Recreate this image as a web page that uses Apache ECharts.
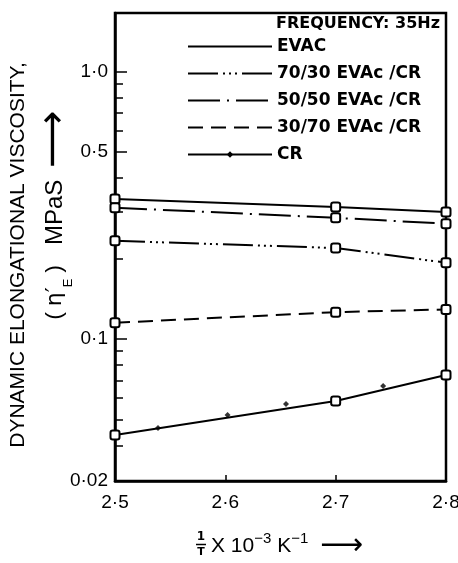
<!DOCTYPE html>
<html>
<head>
<meta charset="utf-8">
<script src="https://cdn.jsdelivr.net/npm/echarts@6/dist/echarts.min.js"></script>
<style>
  html, body { margin: 0; padding: 0; background: #fff; }
  #chart { width: 458px; height: 563px; }
</style>
</head>
<body>
<div id="chart"></div>
<script>
// x: 1/T x 10^-3 K^-1
var xValues = [2.5, 2.7, 2.8]
var xTickValues = [2.5, 2.6, 2.7, 2.8]
var xTickLabels = ['2·5', '2·6', '2·7', '2·8']

// dynamic elongational viscosity (MPa S)
var evac = [0.334, 0.312, 0.299]
var evac7030 = [0.233, 0.219, 0.193]
var evac5050 = [0.310, 0.284, 0.270]
var evac3070 = [0.115, 0.126, 0.129]
var cr = [0.0437, 0.0586, 0.0733]
// little diamonds along the CR line
var crDotX = [2.539, 2.602, 2.655, 2.743]
var crDotY = [0.0464, 0.0519, 0.0571, 0.0667]

var seriesNames = ['EVAC', '70/30 EVAc /CR', '50/50 EVAc /CR', '30/70 EVAc /CR', 'CR']

// log y axis; the bottom of the original axis carries the label 0·02
var yMin = 0.0294
var yMax = 1.66
var yTickValues = [0.0294, 0.1, 0.5, 1.0]
var yTickLabels = ['0·02', '0·1', '0·5', '1·0']
var yMinorTicks = [0.04, 0.05, 0.06, 0.07, 0.08, 0.09, 0.2, 0.3, 0.4, 0.6, 0.7, 0.8, 0.9]

var chart = echarts.init(document.getElementById('chart'), null, { renderer: 'canvas' })

function pairs(ys) {
  return xValues.map(function (x, i) {
    return { value: [x, ys[i]], symbol: 'emptyRoundRect' }
  })
}

function lineSeries(name, ys, dash, legendSymbol) {
  return {
    name: name,
    type: 'line',
    data: pairs(ys),
    symbol: legendSymbol || 'circle',
    symbolSize: 9,
    lineStyle: { color: '#000', width: 2, type: dash },
    itemStyle: { color: '#000', borderWidth: 2 },
    emphasis: { disabled: true },
    z: 3
  }
}

function tickLabel(v, values, labels) {
  for (var i = 0; i < values.length; i++) {
    if (Math.abs(v - values[i]) < 1e-6) return labels[i]
  }
  return ''
}

var font = 'DejaVu Sans'
var sans = 'Liberation Sans'

var option = {
  backgroundColor: '#fff',
  animation: false,
  title: {
    text: 'FREQUENCY: 35Hz',
    right: 18,
    top: 16,
    padding: 0,
    textStyle: { fontFamily: font, fontWeight: 'bold', fontSize: 16, color: '#000' }
  },
  legend: {
    data: seriesNames.map(function (n) {
      return n === 'CR' ? { name: n, itemStyle: { color: '#000' } } : n
    }),
    orient: 'vertical',
    left: 187,
    top: 38,
    padding: 0,
    itemWidth: 84,
    itemHeight: 8,
    itemGap: 10,
    selectedMode: false,
    itemStyle: { color: 'rgba(0,0,0,0)', borderWidth: 0 },
    textStyle: { fontFamily: font, fontWeight: 'bold', fontSize: 17, color: '#000' }
  },
  grid: {
    left: 115,
    right: 12,
    top: 13,
    bottom: 82,
    show: true,
    borderColor: '#000',
    borderWidth: 2.5,
    outerBoundsMode: 'none'
  },
  xAxis: {
    type: 'value',
    min: 2.5,
    max: 2.8,
    interval: 0.1,
    axisLine: { lineStyle: { color: '#000', width: 2.5 } },
    axisTick: { inside: true, length: 6, lineStyle: { color: '#000', width: 1.5 } },
    axisLabel: {
      margin: 12,
      color: '#000',
      fontFamily: sans,
      fontSize: 19,
      formatter: function (v) { return tickLabel(v, xTickValues, xTickLabels) }
    },
    splitLine: { show: false }
  },
  yAxis: [{
    type: 'log',
    logBase: 10,
    min: yMin,
    max: yMax,
    position: 'left',
    axisLine: { lineStyle: { color: '#000', width: 2.5 } },
    axisTick: { inside: true, length: 12, customValues: yTickValues, lineStyle: { color: '#000', width: 1.5 } },
    axisLabel: {
      customValues: yTickValues,
      margin: 7,
      color: '#000',
      fontFamily: sans,
      fontSize: 19,
      formatter: function (v) { return tickLabel(v, yTickValues, yTickLabels) }
    },
    splitLine: { show: false },
    name: 'DYNAMIC ELONGATIONAL VISCOSITY,',
    nameLocation: 'middle',
    nameRotate: 90,
    nameGap: 86,
    nameTextStyle: { fontFamily: sans, fontSize: 21, color: '#000', padding: [0, 16, 0, 0] }
  }, {
    type: 'log',
    logBase: 10,
    min: yMin,
    max: yMax,
    position: 'left',
    axisLine: { show: false },
    axisTick: { inside: true, length: 8, customValues: yMinorTicks, lineStyle: { color: '#000', width: 1.5 } },
    axisLabel: { show: false },
    splitLine: { show: false }
  }],
  series: [
    lineSeries(seriesNames[0], evac, 'solid'),
    lineSeries(seriesNames[1], evac7030, [30, 5, 2, 4, 2, 4, 2, 5]),
    lineSeries(seriesNames[2], evac5050, [32, 7, 2, 7]),
    lineSeries(seriesNames[3], evac3070, [15, 8]),
    lineSeries(seriesNames[4], cr, 'solid', 'diamond'),
    {
      name: 'CR dots',
      type: 'scatter',
      data: crDotX.map(function (x, i) { return [x, crDotY[i]] }),
      symbol: 'diamond',
      symbolSize: 6,
      itemStyle: { color: '#000' },
      emphasis: { disabled: true },
      z: 4
    }
  ],
  graphic: [
    {
      // second line of the y title, reads upward
      type: 'text',
      x: 55,
      y: 215,
      rotation: Math.PI / 2,
      style: {
        text: '{p|( }{b|η′}{e|E}{p| )}{m|MPaS}{a|⟶}',
        textAlign: 'center',
        textVerticalAlign: 'middle',
        font: '22px "Liberation Sans"',
        fill: '#000',
        rich: {
          p: { fontSize: 22, fontFamily: sans },
          b: { fontSize: 22, fontFamily: font },
          e: { fontSize: 13, fontFamily: sans, verticalAlign: 'bottom' },
          m: { fontSize: 24, fontFamily: sans, padding: [0, 12, 0, 20] },
          a: { fontSize: 40, fontFamily: font }
        }
      }
    },
    {
      type: 'text',
      x: 201,
      y: 537,
      style: { text: '1', textAlign: 'center', textVerticalAlign: 'middle', font: 'bold 12px "DejaVu Sans"', fill: '#000' }
    },
    {
      type: 'line',
      shape: { x1: 196, y1: 544.5, x2: 206, y2: 544.5 },
      style: { stroke: '#000', lineWidth: 1.5 }
    },
    {
      type: 'text',
      x: 201,
      y: 552,
      style: { text: 'T', textAlign: 'center', textVerticalAlign: 'middle', font: 'bold 11px "DejaVu Sans"', fill: '#000' }
    },
    {
      type: 'text',
      x: 211,
      y: 546,
      style: {
        text: 'X 10{s|−3} K{s|−1}  {a|⟶}',
        textAlign: 'left',
        textVerticalAlign: 'middle',
        font: '21px "Liberation Sans"',
        fill: '#000',
        rich: {
          s: { fontSize: 15, fontFamily: sans, verticalAlign: 'top', padding: [0, 0, 9, 0] },
          a: { fontSize: 30, fontFamily: font }
        }
      }
    }
  ]
}

chart.setOption(option)
</script>
</body>
</html>
